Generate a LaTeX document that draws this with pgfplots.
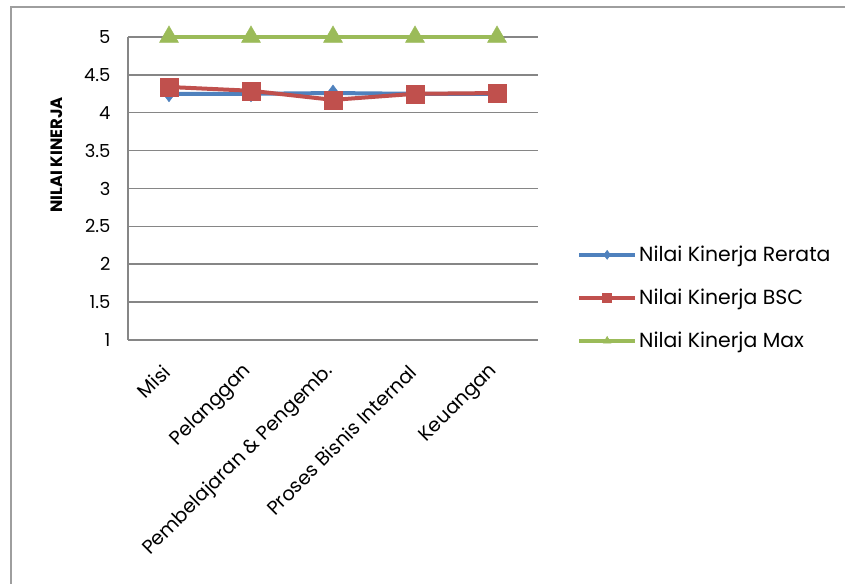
\documentclass[border=0pt]{standalone}
\usepackage{fontspec}
\setmainfont{Poppins}
\usepackage{pgfplots}
\pgfplotsset{compat=1.18}
\definecolor{cblue}{HTML}{4F81BD}
\definecolor{cred}{HTML}{C0504D}
\definecolor{cgreen}{HTML}{9BBB59}
\definecolor{cgrid}{HTML}{868686}
\begin{document}
\begin{tikzpicture}[x=1bp,y=1bp]
\path[use as bounding box] (0,0) rectangle (845,584);
\draw[color=cgrid!80, line width=1.5bp] (11,0) -- (11,577) -- (845,577);
\node[rotate=90, font=\bfseries\fontsize{16.5}{18}\selectfont] at (57,429) {NILAI KINERJA};
\begin{axis}[
  at={(128bp,244bp)}, anchor=south west,
  width=410bp, height=303bp, scale only axis,
  xmin=-0.5, xmax=4.5, ymin=1, ymax=5,
  ytick={1,1.5,2,2.5,3,3.5,4,4.5,5},
  xtick={0,1,2,3,4},
  xticklabels={Misi, Pelanggan, Pembelajaran \& Pengemb., Proses Bisnis Internal, Keuangan},
  axis x line*=bottom, axis y line*=left,
  axis line style={-, color=cgrid, line width=1.5bp},
  major tick length=0pt,
  ymajorgrids, grid style={color=cgrid, line width=1.5bp},
  /pgf/number format/assume math mode=true,
  tick label style={font=\fontsize{18}{21}\selectfont},
  yticklabel style={anchor=east, xshift=-14bp},
  xticklabel style={font=\fontsize{19.5}{22}\selectfont, xshift=0bp, yshift=-26bp, rotate=45, anchor=east},
  legend style={at={(1.095,0.139)}, anchor=west, draw=none, fill=none,
    font=\fontsize{20.5}{24}\selectfont, row sep=22bp, inner sep=0pt},
  legend cell align=left,
  legend image code/.code={
    \draw[#1, mark=none] (0bp,0bp) -- (56bp,0bp);
    \draw[#1, only marks, mark size=4.5bp] plot coordinates {(28bp,0bp)};
  },
  clip=false,
]
\addplot[color=cblue, line width=4bp, mark=diamond*, mark size=8bp, mark options={line width=0.5bp}]
  coordinates {(0,4.25) (1,4.25) (2,4.26) (3,4.25) (4,4.25)};
\addlegendentry{Nilai Kinerja Rerata}
\addplot[color=cred, line width=4bp, mark=square*, mark size=9bp, mark options={line width=0.5bp}]
  coordinates {(0,4.34) (1,4.29) (2,4.17) (3,4.25) (4,4.26)};
\addlegendentry{Nilai Kinerja BSC}
\addplot[color=cgreen, line width=4bp, mark=triangle*, mark size=11bp, mark options={line width=0.5bp}]
  coordinates {(0,5) (1,5) (2,5) (3,5) (4,5)};
\addlegendentry{Nilai Kinerja Max}
\end{axis}
\end{tikzpicture}
\end{document}
